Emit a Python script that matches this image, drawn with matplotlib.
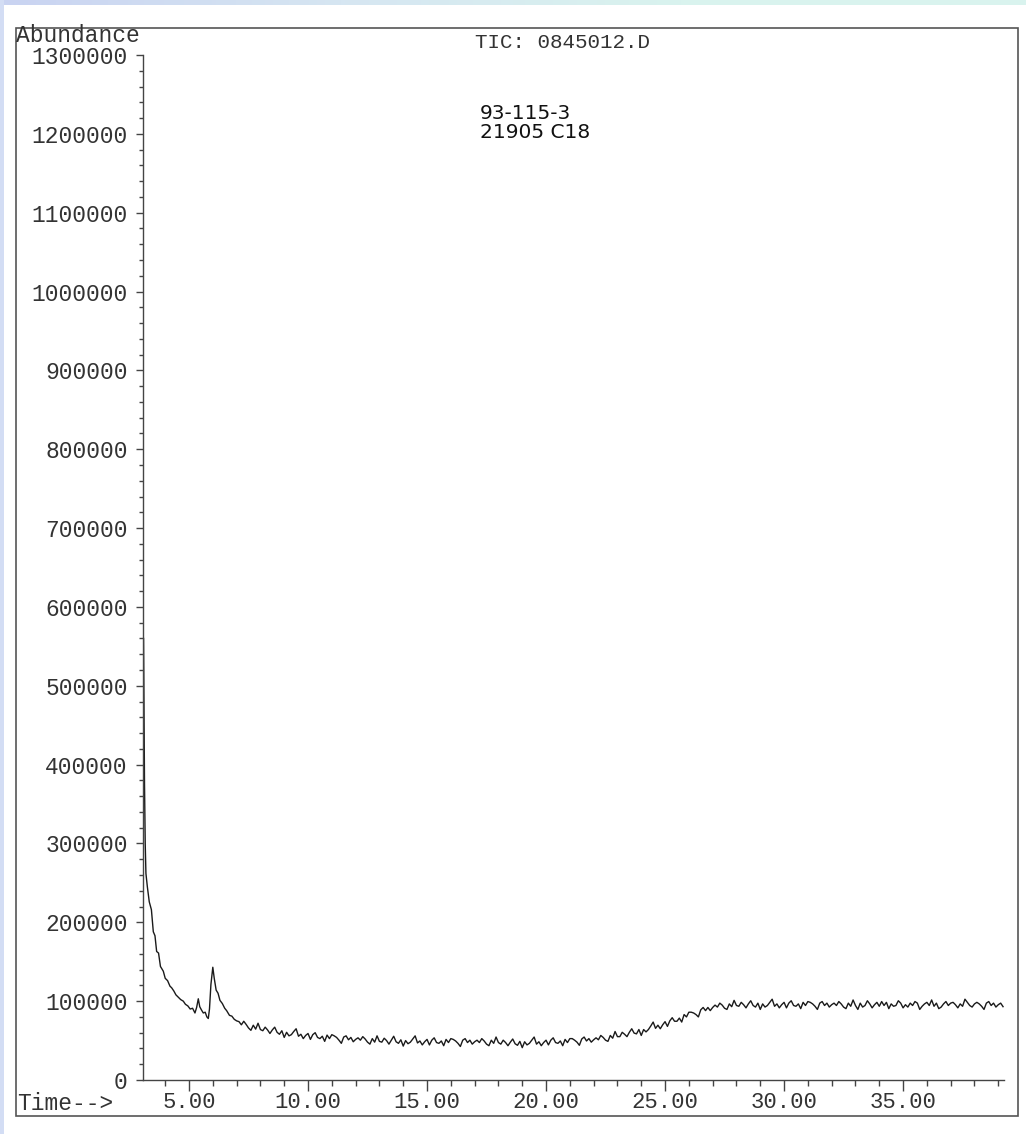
import numpy as np
import matplotlib
matplotlib.use("Agg")
import matplotlib.pyplot as plt
from matplotlib.patches import Rectangle
from matplotlib.colors import LinearSegmentedColormap
from matplotlib.ticker import MultipleLocator, FuncFormatter

# --- dados lidos do cromatograma (TIC) ---
# parte inicial (queda do solvente e os dois picos perto de 5-6 min)
head_time = [3.09, 3.11, 3.13, 3.16, 3.19, 3.25, 3.33, 3.42, 3.50, 3.57,
             3.64, 3.72, 3.80, 3.92, 4.00, 4.10, 4.20, 4.27, 4.36, 4.45,
             4.55, 4.65, 4.76, 4.85, 4.95, 5.05, 5.15, 5.25, 5.32, 5.39,
             5.45, 5.52, 5.60, 5.68, 5.75, 5.81, 5.86, 5.92, 6.00, 6.06,
             6.14, 6.22, 6.30, 6.40, 6.50, 6.58, 6.70, 6.80, 6.90, 7.00]
head_abund = [560000, 470000, 376000, 300000, 262000, 245000, 226000, 216000, 188000, 183000,
              163000, 161000, 144000, 138000, 129000, 126000, 119000, 117000, 113000, 108000,
              105000, 102000, 100000, 96000, 94000, 90000, 91000, 85000, 92000, 103000,
              93000, 89000, 85000, 86000, 80000, 78000, 90000, 121000, 143000, 129000,
              114000, 110000, 101000, 97000, 91000, 88000, 82000, 81000, 77000, 75000]

# linha de base, uma leitura a cada 0.1 min a partir de 7.1 min
scan_start = 7.1
scan_step = 0.1
base_abund = [
    74000, 70000, 74500, 70500, 66000, 63000, 69500, 64500, 72000, 64000,  # 7
    62500, 67000, 63500, 59000, 63500, 67000, 60500, 58000, 62500, 54000,  # 8
    60500, 56000, 57500, 61500, 65000, 55500, 58000, 52500, 56500, 59000,  # 9
    51500, 57500, 60000, 54000, 52500, 55500, 49000, 57000, 52500, 57500,  # 10
    56000, 54000, 50500, 46500, 54500, 56000, 51000, 54000, 48500, 51500,  # 11
    53500, 50500, 55000, 52000, 48000, 45500, 52500, 48000, 56000, 49000,  # 12
    48000, 53000, 50000, 45500, 50500, 55500, 48500, 46500, 51000, 43000,  # 13
    50000, 46000, 48000, 52000, 56000, 47000, 49500, 44500, 48500, 51500,  # 14
    44500, 50500, 53500, 47500, 46500, 49500, 43500, 51500, 47500, 52500,  # 15
    51500, 49500, 46500, 42500, 50500, 52500, 47500, 50500, 45500, 48500,  # 16
    50500, 47500, 52500, 49500, 45500, 43500, 50500, 46500, 54500, 47500,  # 17
    45500, 50500, 47500, 43500, 48000, 52000, 46000, 44000, 49000, 41000,  # 18
    48500, 44500, 46500, 50500, 54500, 45500, 48500, 43500, 47500, 50500,  # 19
    44500, 50500, 53500, 47500, 46500, 49500, 43500, 51500, 47500, 52500,  # 20
    52500, 50500, 48000, 44000, 52000, 54500, 49500, 52500, 48000, 51000,  # 21
    53500, 51000, 56500, 54000, 50500, 49000, 56500, 53000, 61500, 55000,  # 22
    55000, 60500, 58000, 55000, 60500, 65000, 59500, 58500, 64000, 56500,  # 23
    64000, 61000, 64000, 68500, 73500, 65500, 69500, 65000, 70000, 74000,  # 24
    68000, 75000, 79000, 74500, 74500, 78500, 73500, 83000, 80000, 86000,  # 25
    86000, 85000, 83000, 80000, 89000, 92000, 88000, 92000, 88000, 92000,  # 26
    95000, 92500, 97500, 95000, 91000, 89500, 96500, 93000, 101000, 94500,  # 27
    93500, 98500, 95500, 91500, 96500, 100500, 94500, 92500, 97500, 89500,  # 28
    96500, 92500, 94500, 98500, 102500, 93500, 96500, 91500, 95500, 98500,  # 29
    91500, 97500, 100500, 94500, 93500, 96500, 90500, 98500, 94500, 99500,  # 30
    98500, 96500, 93500, 89500, 97500, 99500, 94500, 97500, 92500, 95500,  # 31
    97500, 94500, 99500, 96500, 92500, 90500, 97500, 93500, 101500, 94500,  # 32
    89500, 97500, 92500, 94500, 100500, 96500, 91500, 95500, 98500, 93500,  # 33
    99500, 94500, 98500, 90500, 96500, 93500, 94500, 100500, 97500, 91500,  # 34
    95500, 92500, 97500, 94500, 99500, 97500, 89500, 93500, 96500, 98500,  # 35
    94500, 101500, 93500, 97500, 90500, 92500, 96500, 99500, 94500, 97500,  # 36
    98500, 95500, 91500, 96500, 93500, 102500, 98500, 94500, 92500, 96500,  # 37
    98500, 96500, 93500, 89500, 97500, 99500, 94500, 97500, 92500, 95500,  # 38
    97500, 93000,                                                          # 39
]

title_txt = "TIC: 0845012.D"
sample_txt = "93-115-3\n21905 C18"

base_time = np.round(scan_start + scan_step * np.arange(len(base_abund)), 2)
tempo = np.concatenate([head_time, base_time])
abund = np.concatenate([head_abund, base_abund])

mono = "Liberation Mono"
W, H = 1026, 1134

fig = plt.figure(figsize=(W / 100, H / 100), dpi=100)
fig.patch.set_facecolor("white")

# faixas azuladas da borda (scan)
faixa = fig.add_axes([0, 1 - 5 / H, 1, 5 / H])
grad = np.linspace(0, 1, 256).reshape(1, -1)
cm = LinearSegmentedColormap.from_list("borda", ["#c9d3f1", "#d6e6f2", "#d9f3ee", "#d9f3ee"])
faixa.imshow(grad, aspect="auto", cmap=cm, extent=[0, 1, 0, 1])
faixa.axis("off")
fig.patches.append(Rectangle((0, 0), 4 / W, 1, transform=fig.transFigure,
                             facecolor="#d3ddf4", edgecolor="none", zorder=0))

# moldura externa
fig.patches.append(Rectangle((16 / W, 1 - 1116 / H), (1018 - 16) / W, (1116 - 28) / H,
                             transform=fig.transFigure, facecolor="none",
                             edgecolor="#555555", linewidth=1.2, zorder=1))

ax = fig.add_axes([143 / W, 1 - 1080 / H, (1004 - 143) / W, (1080 - 55) / H])
ax.plot(tempo, abund, color="#1a1a1a", linewidth=1.0)

ax.set_xlim(3.067, 39.24)
ax.set_ylim(0, 1300000)
for s in ["top", "right"]:
    ax.spines[s].set_visible(False)
for s in ["left", "bottom"]:
    ax.spines[s].set_color("#444444")
    ax.spines[s].set_linewidth(1.0)
ax.set_facecolor("none")

ax.xaxis.set_major_locator(MultipleLocator(5))
ax.xaxis.set_minor_locator(MultipleLocator(1))
ax.yaxis.set_major_locator(MultipleLocator(100000))
ax.yaxis.set_minor_locator(MultipleLocator(20000))
ax.xaxis.set_major_formatter(FuncFormatter(lambda v, p: "%.2f" % v))
ax.yaxis.set_major_formatter(FuncFormatter(lambda v, p: "%d" % v))

ax.tick_params(axis="x", which="major", length=8, width=1, pad=1, color="#444444",
               labelsize=16, labelcolor="#333333")
ax.tick_params(axis="x", which="minor", length=4.5, width=1, color="#444444")
ax.tick_params(axis="y", which="major", length=5, width=1, pad=6, color="#444444",
               labelsize=16.5, labelcolor="#333333")
ax.tick_params(axis="y", which="minor", length=3, width=1, color="#444444")
for lab in ax.get_xticklabels() + ax.get_yticklabels():
    lab.set_fontfamily(mono)

fig.text(16 / W, 1 - 36 / H, "Abundance", family=mono, fontsize=16.5,
         color="#333333", ha="left", va="center")
fig.text(17 / W, 1 - 1103 / H, "Time-->", family=mono, fontsize=16.5,
         color="#333333", ha="left", va="center")
fig.text(475 / W, 1 - 42 / H, title_txt, family=mono, fontsize=15,
         color="#333333", ha="left", va="center")
fig.text(480 / W, 1 - 123 / H, sample_txt, family="DejaVu Sans", fontsize=14.5,
         color="#111111", ha="left", va="center", linespacing=1.0)

plt.savefig("out.png", dpi=100)
